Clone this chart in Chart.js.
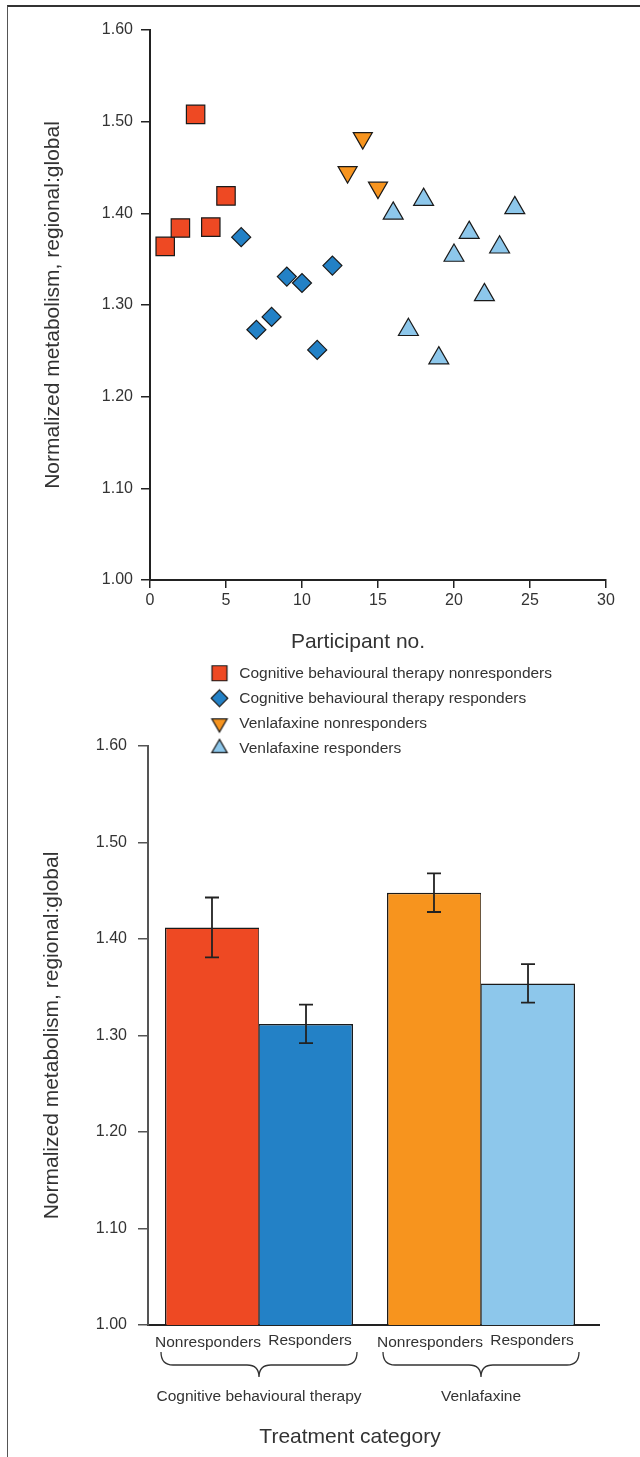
<!DOCTYPE html>
<html>
<head>
<meta charset="utf-8">
<script src="https://cdn.jsdelivr.net/npm/chart.js"></script>
<style>
  body { margin: 0; background: #fff; }
  #page { position: relative; width: 640px; height: 1457px; overflow: hidden; background: #fff; }
  #frame { position: absolute; left: 7px; top: 5px; width: 640px; height: 1460px; border-top: 2px solid #333; border-left: 1px solid #555; }
  canvas { position: absolute; left: 0; }
  #scatterChart { top: 0; }
  #barChart { top: 720px; }
</style>
</head>
<body>
<div id="page">
  <div id="frame"></div>
  <canvas id="scatterChart" width="640" height="766"></canvas>
  <canvas id="barChart" width="640" height="737"></canvas>
</div>

<script>
    // ---- data ----
    const cbtNonX  = [1, 2, 3, 4, 5];
    const cbtNonY  = [1.364, 1.384, 1.508, 1.385, 1.419];
    const cbtRespX = [6, 7, 8, 9, 10, 11, 12];
    const cbtRespY = [1.374, 1.273, 1.287, 1.331, 1.324, 1.251, 1.343];
    const venNonX  = [13, 14, 15];
    const venNonY  = [1.445, 1.482, 1.428];
    const venRespX = [16, 17, 18, 19, 20, 21, 22, 23, 24];
    const venRespY = [1.400, 1.273, 1.415, 1.242, 1.354, 1.379, 1.311, 1.363, 1.406];

    const seriesNames = [
        'Cognitive behavioural therapy nonresponders',
        'Cognitive behavioural therapy responders',
        'Venlafaxine nonresponders',
        'Venlafaxine responders'
    ];

    const groups = ['Cognitive behavioural therapy', 'Venlafaxine'];
    const responseLabels = ['Nonresponders', 'Responders'];
    const nonMeans  = [1.412, 1.448];
    const nonErr    = [0.031, 0.020];
    const respMeans = [1.312, 1.354];
    const respErr   = [0.020, 0.020];

    const metabolismTicks  = [1.00, 1.10, 1.20, 1.30, 1.40, 1.50, 1.60];
    const participantTicks = [0, 5, 10, 15, 20, 25, 30];

    // ---- styles ----
    const FONT = '"Liberation Sans", Arial, Helvetica, sans-serif';
    const RED = '#EE4923', BLUE = '#2381C6', ORANGE = '#F7941E', LIGHTBLUE = '#8DC7EB';
    const EDGE = '#1a1a1a';
    const TEXT = '#333';
    const yTitle = 'Normalized metabolism, regional:global';

    Chart.defaults.font.family = FONT;
    Chart.defaults.color = TEXT;

    const toPoints = (xs, ys) => xs.map((x, i) => ({ x: x, y: ys[i] }));

    function markerCanvas(style, radius, rotation, fill) {
        const size = Math.ceil(radius * 2 + 4);
        const c = document.createElement('canvas');
        c.width = size; c.height = size;
        const ctx = c.getContext('2d');
        ctx.fillStyle = fill;
        ctx.strokeStyle = EDGE;
        ctx.lineWidth = 1.2;
        Chart.helpers.drawPoint(ctx, { pointStyle: style, radius: radius, rotation: rotation, borderWidth: 1.2 }, size / 2, size / 2);
        return c;
    }

    const legendMarkers = [
        markerCanvas('rect', 10.6, 0, RED),
        markerCanvas('rectRot', 8.3, 0, BLUE),
        markerCanvas('triangle', 8.9, 180, ORANGE),
        markerCanvas('triangle', 8.9, 0, LIGHTBLUE)
    ];

    function tickAxisY(tickLen, pad, titlePad, lineColor) {
        return {
            min: 1, max: 1.6,
            afterBuildTicks: s => { s.ticks = metabolismTicks.map(v => ({ value: v })); },
            ticks: { callback: v => v.toFixed(2), font: { size: 16 }, padding: pad, color: TEXT },
            grid: { display: true, drawOnChartArea: false, drawTicks: true, tickLength: tickLen, color: lineColor, lineWidth: 1.5 },
            border: { display: true, color: lineColor, width: 2 },
            title: { display: true, text: yTitle, font: { size: 21 }, color: TEXT, padding: { top: titlePad, bottom: 0 } }
        };
    }

    // axis title under the x axis, drawn a little left of centre as in the figure
    function xTitlePlugin(text, y) {
        return {
            id: 'xTitle',
            afterDraw(chart) {
                const ctx = chart.ctx, a = chart.chartArea;
                ctx.save();
                ctx.font = '21px ' + FONT;
                ctx.fillStyle = TEXT;
                ctx.textAlign = 'center';
                ctx.textBaseline = 'middle';
                ctx.fillText(text, (a.left + a.right) / 2 - 20, y);
                ctx.restore();
            }
        };
    }

    // 1. SCATTER (per participant)
    // legend is a single left-aligned column under the x axis title
    const legendPlace = {
        id: 'legendPlace',
        afterLayout(chart) {
            const lg = chart.legend;
            lg.left = 198;
            lg.top = 656;
            lg.bottom = lg.top + 200;
        }
    };

    new Chart(document.getElementById('scatterChart'), {
        type: 'scatter',
        data: {
            datasets: [
                { label: seriesNames[0], data: toPoints(cbtNonX, cbtNonY), pointStyle: 'rect', pointRadius: 13, backgroundColor: RED },
                { label: seriesNames[1], data: toPoints(cbtRespX, cbtRespY), pointStyle: 'rectRot', pointRadius: 9.5, backgroundColor: BLUE },
                { label: seriesNames[2], data: toPoints(venNonX, venNonY), pointStyle: 'triangle', rotation: 180, pointRadius: 11, backgroundColor: ORANGE },
                { label: seriesNames[3], data: toPoints(venRespX, venRespY), pointStyle: 'triangle', pointRadius: 11.5, backgroundColor: LIGHTBLUE }
            ].map(d => Object.assign(d, { borderColor: EDGE, pointBorderWidth: 1.2 }))
        },
        options: {
            responsive: false,
            animation: false,
            events: [],
            layout: { padding: { top: 30, right: 34, bottom: 110, left: 0 } },
            plugins: {
                tooltip: { enabled: false },
                legend: {
                    position: 'chartArea',
                    align: 'start',
                    labels: {
                        usePointStyle: true,
                        pointStyleWidth: 24,
                        padding: 9.5,
                        font: { size: 15.5 },
                        color: TEXT,
                        generateLabels: chart => chart.data.datasets.map((ds, i) => ({
                            text: ds.label,
                            pointStyle: legendMarkers[i],
                            fillStyle: ds.backgroundColor,
                            strokeStyle: EDGE,
                            lineWidth: 1.2,
                            hidden: false,
                            datasetIndex: i,
                            fontColor: TEXT
                        }))
                    }
                }
            },
            scales: {
                x: {
                    type: 'linear', min: 0, max: 30,
                    afterBuildTicks: s => { s.ticks = participantTicks.map(v => ({ value: v })); },
                    afterFit: s => { s.height = 76; },
                    ticks: { font: { size: 16 }, padding: 3, color: TEXT },
                    grid: { display: true, drawOnChartArea: false, drawTicks: true, tickLength: 8, color: '#222', lineWidth: 1.5 },
                    border: { display: true, color: '#222', width: 2 }
                },
                y: Object.assign(tickAxisY(9, 8, 41, '#222'), { afterFit: s => { s.width = 150; } })
            }
        },
        plugins: [legendPlace, xTitlePlugin('Participant no.', 642)]
    });

    // 2. BAR CHART (group means with error bars)
    const errorBars = {
        id: 'errorBars',
        afterDatasetsDraw(chart) {
            const ctx = chart.ctx, y = chart.scales.y;
            const errs = [nonErr, respErr];
            ctx.save();
            ctx.strokeStyle = '#222';
            ctx.lineWidth = 1.8;
            chart.data.datasets.forEach((ds, i) => {
                chart.getDatasetMeta(i).data.forEach((bar, j) => {
                    const top = y.getPixelForValue(ds.data[j] + errs[i][j]);
                    const bot = y.getPixelForValue(ds.data[j] - errs[i][j]);
                    ctx.beginPath();
                    ctx.moveTo(bar.x, top); ctx.lineTo(bar.x, bot);
                    ctx.moveTo(bar.x - 7, top); ctx.lineTo(bar.x + 7, top);
                    ctx.moveTo(bar.x - 7, bot); ctx.lineTo(bar.x + 7, bot);
                    ctx.stroke();
                });
            });
            ctx.restore();
        }
    };

    const subLabels = {
        id: 'subLabels',
        afterDraw(chart) {
            const ctx = chart.ctx, x = chart.scales.x;
            const base = x.top;
            ctx.save();
            // the axis line runs a little past the last bar group
            ctx.strokeStyle = '#222';
            ctx.lineWidth = 2;
            ctx.beginPath();
            ctx.moveTo(x.right - 1, base);
            ctx.lineTo(x.right + 8, base);
            ctx.stroke();

            ctx.font = '15.5px ' + FONT;
            ctx.fillStyle = TEXT;
            ctx.textAlign = 'center';
            ctx.textBaseline = 'middle';
            chart.data.datasets.forEach((ds, i) => {
                const shift = i === 0 ? -4 : 4;
                const dy = i === 0 ? 18 : 16;
                chart.getDatasetMeta(i).data.forEach(bar => ctx.fillText(responseLabels[i], bar.x + shift, base + dy));
            });
            // curly braces under each treatment group
            ctx.strokeStyle = '#333';
            ctx.lineWidth = 1.3;
            const y0 = base + 27, y1 = base + 40, y2 = base + 52, half = 98, r = 12;
            groups.forEach((g, j) => {
                const cx = x.getPixelForValue(j);
                ctx.beginPath();
                ctx.moveTo(cx - half, y0);
                ctx.quadraticCurveTo(cx - half, y1, cx - half + r, y1);
                ctx.lineTo(cx - r, y1);
                ctx.quadraticCurveTo(cx, y1, cx, y2);
                ctx.quadraticCurveTo(cx, y1, cx + r, y1);
                ctx.lineTo(cx + half - r, y1);
                ctx.quadraticCurveTo(cx + half, y1, cx + half, y0);
                ctx.stroke();
            });
            ctx.restore();
        }
    };

    new Chart(document.getElementById('barChart'), {
        type: 'bar',
        data: {
            labels: groups,
            datasets: [
                {
                    label: responseLabels[0], data: nonMeans, backgroundColor: [RED, ORANGE],
                    borderColor: EDGE, borderWidth: { top: 1.5, left: 1.5, right: 0.8, bottom: 0 }
                },
                {
                    label: responseLabels[1], data: respMeans, backgroundColor: [BLUE, LIGHTBLUE],
                    borderColor: EDGE, borderWidth: { top: 1.5, left: 0.8, right: 1.5, bottom: 0 }
                }
            ].map(d => Object.assign(d, { categoryPercentage: 0.847, barPercentage: 1, borderSkipped: false }))
        },
        options: {
            responsive: false,
            animation: false,
            events: [],
            layout: { padding: { top: 26, right: 48, bottom: 0, left: 0 } },
            plugins: { legend: { display: false }, tooltip: { enabled: false } },
            scales: {
                x: {
                    afterFit: s => { s.height = 132; },
                    ticks: { font: { size: 15.5 }, padding: 62.7, color: TEXT },
                    grid: { display: false, drawTicks: false },
                    border: { display: true, color: '#222', width: 2 }
                },
                y: Object.assign(tickAxisY(10, 11, 40, '#555'), { afterFit: s => { s.width = 148; } })
            }
        },
        plugins: [errorBars, subLabels, xTitlePlugin('Treatment category', 717)]
    });
</script>
</body>
</html>
